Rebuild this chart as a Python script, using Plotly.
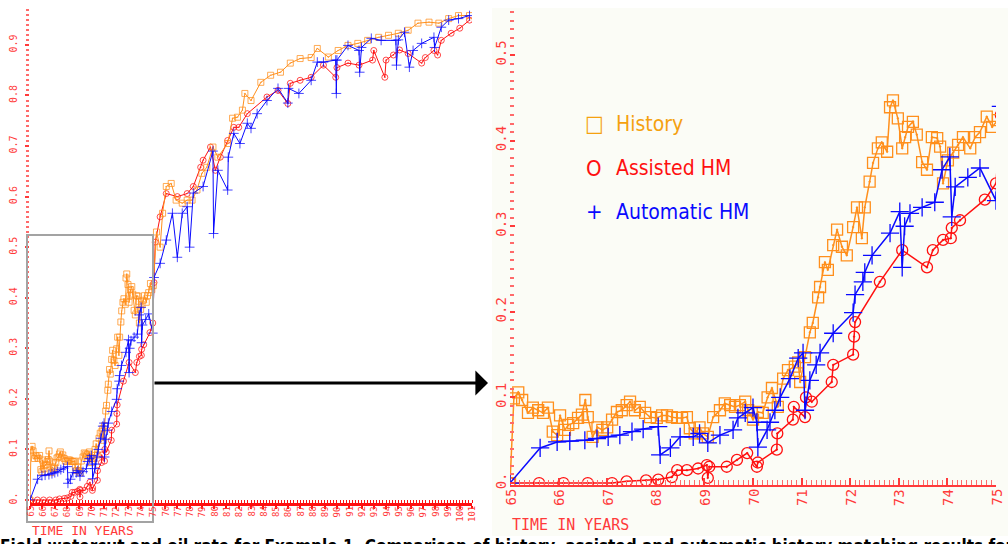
import plotly.graph_objects as go

# ---------------- data ----------------
hist_years = [65.0, 65.08, 65.17, 65.25, 65.37, 65.47, 65.58, 65.68, 65.78, 65.88, 65.97, 66.03, 66.13, 66.2,
              66.3, 66.4, 66.48, 66.55, 66.6, 66.7, 66.8, 66.9, 67.0, 67.1, 67.2, 67.3, 67.4, 67.47, 67.57,
              67.67, 67.78, 67.88, 68.02, 68.13, 68.23, 68.33, 68.44, 68.54, 68.64, 68.7, 68.8, 68.9, 68.97,
              69.07, 69.18, 69.32, 69.42, 69.53, 69.63, 69.73, 69.84, 69.9, 70.0, 70.1, 70.2, 70.3, 70.39,
              70.51, 70.62, 70.72, 70.86, 70.93, 70.97, 71.07, 71.17, 71.23, 71.34, 71.38, 71.48, 71.54,
              71.65, 71.73, 71.83, 71.93, 72.06, 72.14, 72.24, 72.3, 72.4, 72.47, 72.57, 72.65, 72.76, 72.82,
              72.88, 72.98, 73.07, 73.13, 73.19, 73.29, 73.37, 73.48, 73.58, 73.68, 73.79, 73.85, 73.91,
              74.01, 74.12, 74.22, 74.32, 74.47, 74.57, 74.67, 74.81, 74.92, 75.04, 75.3, 75.6, 75.8, 76.1,
              76.5, 76.9, 77.4, 77.8, 78.2, 78.6, 79.0, 79.4, 79.9, 80.3, 81.1, 81.5, 81.9, 82.3, 82.5, 83.0,
              83.8, 84.6, 85.4, 86.2, 87.0, 87.9, 88.4, 89.3, 90.1, 90.9, 91.7, 92.5, 93.4, 94.2, 95.0, 95.8,
              96.6, 97.5, 98.3, 99.1, 99.9, 100.8]
hist_values = [0.0, 0.099, 0.106, 0.097, 0.082, 0.088, 0.085, 0.082, 0.088, 0.060, 0.056, 0.079, 0.062, 0.068,
               0.070, 0.076, 0.080, 0.097, 0.077, 0.054, 0.065, 0.062, 0.065, 0.074, 0.083, 0.085, 0.091, 0.095,
               0.085, 0.089, 0.082, 0.077, 0.076, 0.079, 0.079, 0.077, 0.076, 0.076, 0.077, 0.064, 0.058, 0.065,
               0.058, 0.054, 0.077, 0.085, 0.093, 0.091, 0.089, 0.091, 0.095, 0.085, 0.074, 0.083, 0.082, 0.100,
               0.111, 0.089, 0.122, 0.132, 0.136, 0.141, 0.118, 0.147, 0.176, 0.187, 0.217, 0.229, 0.258, 0.249,
               0.278, 0.296, 0.276, 0.266, 0.299, 0.322, 0.286, 0.322, 0.352, 0.374, 0.391, 0.398, 0.387, 0.439,
               0.447, 0.426, 0.391, 0.404, 0.416, 0.422, 0.407, 0.375, 0.366, 0.404, 0.403, 0.393, 0.350, 0.377,
               0.386, 0.395, 0.404, 0.391, 0.404, 0.410, 0.428, 0.416, 0.424, 0.530, 0.500, 0.567, 0.620, 0.626,
               0.593, 0.587, 0.593, 0.593, 0.613, 0.646, 0.658, 0.698, 0.678, 0.705, 0.755, 0.757, 0.771, 0.804,
               0.790, 0.826, 0.840, 0.846, 0.864, 0.873, 0.875, 0.893, 0.876, 0.889, 0.899, 0.903, 0.909, 0.915,
               0.919, 0.923, 0.929, 0.943, 0.945, 0.943, 0.952, 0.958, 0.958]

assisted_years = [65.0, 65.6, 66.1, 66.6, 67.1, 67.4, 67.8, 68.05, 68.33, 68.44, 68.64, 68.87, 69.05, 69.07,
                  69.1, 69.46, 69.67, 69.88, 70.08, 70.1, 70.49, 70.5, 70.82, 70.84, 71.07, 71.09, 71.21,
                  71.62, 71.65, 72.06, 72.08, 72.1, 72.61, 73.07, 73.58, 73.7, 73.91, 74.07, 74.09, 74.26,
                  74.77, 75.0, 75.1, 75.2, 75.6, 76.1, 77.0, 77.8, 78.3, 78.9, 79.1, 79.7, 80.1, 80.5, 81.1,
                  81.6, 82.0, 82.7, 84.3, 85.2, 86.0, 86.2, 87.0, 87.9, 88.9, 89.9, 90.0, 90.9, 91.8, 92.9,
                  93.0, 93.9, 94.0, 94.6, 95.1, 95.8, 96.9, 97.2, 97.9, 98.2, 98.5, 99.3, 100.0, 100.8]
assisted_values = [0.0, 0.0, 0.0, 0.0, 0.0, 0.002, 0.003, 0.004, 0.007, 0.015, 0.015, 0.017, 0.021, 0.006,
                   0.019, 0.019, 0.027, 0.035, 0.019, 0.024, 0.039, 0.058, 0.074, 0.089, 0.077, 0.100, 0.095,
                   0.118, 0.138, 0.150, 0.171, 0.188, 0.235, 0.272, 0.252, 0.272, 0.284, 0.286, 0.298, 0.307,
                   0.331, 0.350, 0.430, 0.510, 0.560, 0.606, 0.600, 0.606, 0.620, 0.658, 0.672, 0.698, 0.652,
                   0.678, 0.711, 0.737, 0.737, 0.764, 0.797, 0.810, 0.784, 0.824, 0.830, 0.836, 0.860, 0.836,
                   0.855, 0.864, 0.860, 0.870, 0.889, 0.836, 0.870, 0.880, 0.890, 0.883, 0.864, 0.875, 0.889,
                   0.880, 0.909, 0.923, 0.933, 0.949]

auto_years = [65.0, 65.62, 65.97, 66.23, 66.54, 66.79, 67.02, 67.26, 67.51, 67.74, 68.05, 68.09, 68.3, 68.5,
              68.77, 68.9, 69.07, 69.32, 69.59, 69.69, 69.84, 70.0, 70.08, 70.1, 70.29, 70.35, 70.45, 70.56,
              70.76, 70.93, 71.03, 71.07, 71.17, 71.3, 71.38, 71.65, 72.06, 72.1, 72.26, 72.3, 72.45, 72.82,
              73.02, 73.07, 73.12, 73.23, 73.48, 73.74, 73.89, 74.05, 74.09, 74.16, 74.42, 74.67, 75.0, 75.1,
              75.6, 76.1, 76.6, 77.0, 77.4, 77.8, 78.0, 78.3, 79.1, 79.9, 79.95, 80.3, 81.1, 81.15, 81.6, 82.1,
              82.7, 83.0, 83.5, 84.3, 85.2, 86.0, 86.05, 86.9, 87.9, 88.4, 88.9, 89.9, 89.95, 90.0, 90.9, 91.8,
              91.85, 92.0, 92.8, 93.6, 94.8, 94.85, 95.0, 95.5, 95.9, 96.2, 96.9, 97.9, 97.95, 98.5, 99.1,
              99.9, 100.8]
auto_values = [0.0, 0.041, 0.048, 0.049, 0.050, 0.052, 0.054, 0.056, 0.060, 0.063, 0.066, 0.033, 0.041, 0.054,
               0.054, 0.058, 0.047, 0.056, 0.062, 0.076, 0.082, 0.088, 0.071, 0.042, 0.062, 0.071, 0.085, 0.100,
               0.122, 0.146, 0.152, 0.085, 0.120, 0.138, 0.152, 0.175, 0.199, 0.220, 0.235, 0.246, 0.266, 0.292,
               0.317, 0.252, 0.300, 0.315, 0.322, 0.328, 0.366, 0.381, 0.311, 0.346, 0.357, 0.368, 0.330, 0.440,
               0.468, 0.514, 0.567, 0.480, 0.567, 0.580, 0.500, 0.607, 0.620, 0.690, 0.527, 0.652, 0.613, 0.678,
               0.725, 0.705, 0.745, 0.735, 0.764, 0.790, 0.814, 0.785, 0.814, 0.804, 0.830, 0.866, 0.866, 0.870,
               0.804, 0.870, 0.899, 0.889, 0.846, 0.895, 0.913, 0.909, 0.909, 0.860, 0.910, 0.925, 0.856, 0.889,
               0.903, 0.915, 0.895, 0.935, 0.949, 0.952, 0.958]

left_year_ticks = list(range(65, 102))
right_year_ticks = list(range(65, 76))
left_value_ticks = [0.0, 0.1, 0.2, 0.3, 0.4, 0.5, 0.6, 0.7, 0.8, 0.9]
right_value_ticks = [0.0, 0.1, 0.2, 0.3, 0.4, 0.5]
legend_labels = ["History", "Assisted HM", "Automatic HM"]
legend_symbols = ["□", "O", "+"]
axis_title = "TIME IN YEARS"
caption = ("Field watercut and oil rate for Example 1. Comparison of history, assisted and "
           "automatic history matching results for the field watercut")

# ---------------- styling ----------------
W, H = 1008, 544
ORANGE = "#ff8f1c"
ORANGE_TXT = "#f5a10f"
RED = "#ff1010"
BLUE = "#0a0aff"
AX_RED = "#ff3a3a"
MONO = "DejaVu Sans Mono, Liberation Mono, monospace"
NARROW = "Liberation Sans Narrow, Arial Narrow, DejaVu Sans Condensed, Liberation Sans, Arial"


def fx(p):
    return p / W


def fy(p):
    return 1 - p / H


def lbl(v):
    return "0." if v == 0 else f"{v:.1f}"


series = [
    (assisted_years, assisted_values, RED, "circle-open-dot"),
    (hist_years, hist_values, ORANGE, "square-open-dot"),
    (auto_years, auto_values, BLUE, "cross-thin-open"),
]

fig = go.Figure()
for xs, ys, col, sym in series:
    fig.add_trace(go.Scatter(
        x=xs, y=ys, mode="lines+markers", xaxis="x", yaxis="y", showlegend=False,
        line=dict(color=col, width=1),
        marker=dict(symbol=sym, size=6 if sym != "cross-thin-open" else 7, color=col, opacity=0.75,
                    line=dict(color=col, width=1))))
for xs, ys, col, sym in series:
    fig.add_trace(go.Scatter(
        x=xs, y=ys, mode="lines+markers", xaxis="x2", yaxis="y2", showlegend=False,
        line=dict(color=col, width=1.5),
        marker=dict(symbol=sym, size=11 if sym != "cross-thin-open" else 13, color=col,
                    line=dict(color=col, width=1.3))))

fig.update_layout(
    width=W, height=H, margin=dict(l=0, r=0, t=0, b=0, autoexpand=False),
    paper_bgcolor="white", plot_bgcolor="rgba(0,0,0,0)",
    xaxis=dict(domain=[fx(30), fx(472)], range=[65, 101], anchor="y", automargin=False,
               tickvals=left_year_ticks, showticklabels=False,
               ticks="outside", ticklen=3, tickcolor=RED, tickwidth=1.5,
               showline=True, linecolor=RED, linewidth=2.5, showgrid=False, zeroline=False,
               minor=dict(dtick=0.25, tick0=65, ticks="inside", ticklen=3, tickcolor=RED, tickwidth=1)),
    yaxis=dict(domain=[fy(503), fy(8)], range=[-0.006, 0.973], anchor="x", automargin=False,
               tickvals=left_value_ticks, ticktext=[lbl(v) for v in left_value_ticks],
               tickangle=-90, tickfont=dict(family=MONO, size=10, color=AX_RED),
               ticks="outside", ticklen=4, tickcolor=AX_RED, tickwidth=1.5, ticklabelstandoff=4,
               showline=False, showgrid=False, zeroline=False,
               minor=dict(dtick=0.01, tick0=0, ticks="outside", ticklen=3, tickcolor="#ff6a6a", tickwidth=1.5)),
    xaxis2=dict(domain=[fx(510), fx(996)], range=[65, 75], anchor="y2", automargin=False,
                tickvals=right_year_ticks, showticklabels=False,
                ticks="inside", ticklen=7, tickcolor=AX_RED, tickwidth=1.5,
                showline=True, linecolor=AX_RED, linewidth=1.5, showgrid=False, zeroline=False,
                minor=dict(dtick=0.1, tick0=65, ticks="inside", ticklen=5, tickcolor="#ff6a6a", tickwidth=1)),
    yaxis2=dict(domain=[fy(485), fy(10)], range=[-0.0023, 0.5526], anchor="x2", automargin=False,
                tickvals=right_value_ticks, ticktext=[lbl(v) for v in right_value_ticks],
                tickangle=-90, tickfont=dict(family=MONO, size=14, color=AX_RED),
                ticks="inside", ticklen=5, tickcolor=AX_RED, tickwidth=1.5,
                showline=False, showgrid=False, zeroline=False,
                minor=dict(dtick=0.01, tick0=0, ticks="inside", ticklen=4, tickcolor="#ff6a6a", tickwidth=1.5)),
)

shapes = [
    # faint background of the zoomed panel
    dict(type="rect", xref="paper", yref="paper", x0=fx(492), x1=1, y0=fy(536), y1=fy(8),
         fillcolor="#fbfcf6", line=dict(width=0), layer="below"),
    # grey box marking the zoomed region on the left panel
    dict(type="rect", xref="paper", yref="paper", x0=fx(27), x1=fx(153), y0=fy(522), y1=fy(235),
         line=dict(color="#a3a3a3", width=2), fillcolor="rgba(0,0,0,0)", layer="above"),
]
fig.update_layout(shapes=shapes)

annotations = [
    dict(xref="paper", yref="paper", x=fx(488), y=fy(383), ax=-(488 - 153), ay=0,
         axref="pixel", ayref="pixel", text="", showarrow=True, arrowhead=1, arrowsize=1.4,
         arrowwidth=3, arrowcolor="black", standoff=0),
    dict(xref="paper", yref="paper", x=fx(30), y=fy(530), text=axis_title, showarrow=False,
         xanchor="left", yanchor="middle", font=dict(family=MONO, size=13, color=AX_RED)),
    dict(xref="paper", yref="paper", x=fx(510), y=fy(525), text=axis_title, showarrow=False,
         xanchor="left", yanchor="middle", font=dict(family=MONO, size=15, color=AX_RED)),
    dict(xref="paper", yref="paper", x=-0.002, y=fy(534), text=caption, showarrow=False,
         xanchor="left", yanchor="top", font=dict(family=NARROW, size=17, color="black", weight="bold")),
]
# rotated time tick labels (read bottom-to-top)
for yr in left_year_ticks:
    annotations.append(dict(xref="x", yref="paper", x=yr, y=fy(505), text=str(yr), showarrow=False,
                            textangle=-90, xanchor="center", yanchor="top", borderpad=0,
                            font=dict(family=MONO, size=9, color=AX_RED)))
for yr in right_year_ticks:
    annotations.append(dict(xref="x2", yref="paper", x=yr, y=fy(488), text=str(yr), showarrow=False,
                            textangle=-90, xanchor="center", yanchor="top", borderpad=0,
                            font=dict(family=MONO, size=14, color=AX_RED)))
legend_colors = [ORANGE_TXT, RED, BLUE]
legend_y = [124, 168, 212]
for lab, sym, col, yy in zip(legend_labels, legend_symbols, legend_colors, legend_y):
    annotations.append(dict(xref="paper", yref="paper", x=fx(594), y=fy(yy), text=sym, showarrow=False,
                            xanchor="center", yanchor="middle",
                            font=dict(family=NARROW, size=22, color=col)))
    annotations.append(dict(xref="paper", yref="paper", x=fx(614), y=fy(yy), text=lab, showarrow=False,
                            xanchor="left", yanchor="middle",
                            font=dict(family=NARROW, size=21, color=col)))
fig.update_layout(annotations=annotations)

fig.write_html("out.html")
